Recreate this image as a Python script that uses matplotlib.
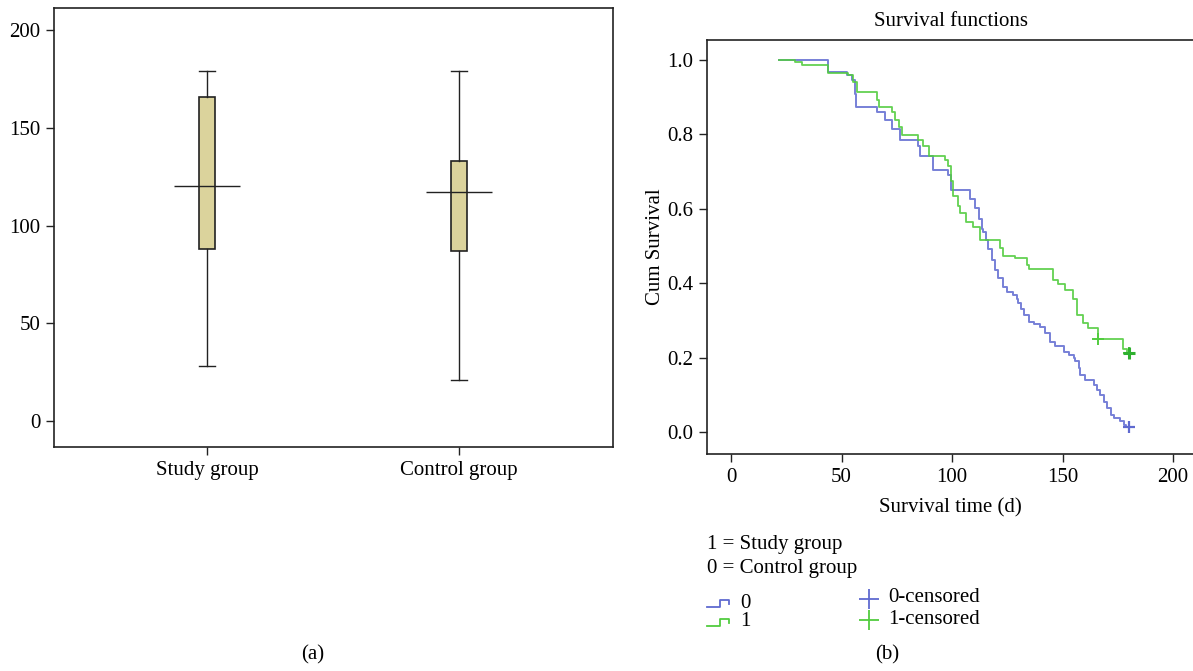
import matplotlib.pyplot as plt
from matplotlib.lines import Line2D

plt.rcParams['font.family'] = ['Liberation Serif', 'DejaVu Serif']
plt.rcParams['font.size'] = 15

# (a) box plot data
groups = ['Study group', 'Control group']
whisker_low = [28, 21]
box_q1 = [88, 87]
box_median = [120, 117]
box_q3 = [166, 133]
whisker_high = [179, 179]
box_color = '#dbd39c'

# (b) Kaplan-Meier step data
study_t = [21.8, 29.0, 32.0, 43.7, 53.0, 55.4, 56.9, 65.9, 67.1, 72.7, 74.2, 76.2, 77.2,
           84.7, 86.9, 89.4, 96.8, 98.3, 99.5, 100.6, 102.8, 103.6, 106.2, 109.7, 112.7,
           121.7, 123.2, 128.5, 133.8, 134.6, 145.9, 147.8, 151.2, 154.9, 156.5, 159.4,
           161.7, 166.2, 177.5, 179.0, 180.0]
study_s = [1.0, 0.996, 0.986, 0.964, 0.960, 0.942, 0.915, 0.893, 0.875, 0.860, 0.839, 0.821, 0.799,
           0.786, 0.768, 0.741, 0.732, 0.714, 0.674, 0.634, 0.607, 0.589, 0.566, 0.550, 0.517,
           0.495, 0.473, 0.468, 0.450, 0.437, 0.410, 0.397, 0.383, 0.357, 0.316, 0.294,
           0.281, 0.249, 0.222, 0.212, 0.212]
study_cens_t = [166.2, 180.0]
study_cens_s = [0.249, 0.212]

ctrl_t = [21.8, 43.7, 52.3, 54.9, 55.9, 56.6, 65.9, 69.7, 72.7, 76.5, 84.7, 85.5, 91.5,
          98.3, 99.5, 108.2, 110.4, 112.0, 113.5, 114.2, 115.4, 116.4, 118.0, 119.5, 121.0,
          123.2, 124.8, 127.8, 129.3, 130.0, 131.2, 132.7, 134.6, 137.0, 139.9, 142.2,
          144.5, 146.7, 150.5, 152.8, 155.0, 155.8, 157.3, 158.1, 160.3, 164.1, 165.6,
          167.1, 168.7, 170.2, 171.7, 173.2, 176.2, 177.7, 178.8, 180.0]
ctrl_s = [1.0, 0.967, 0.960, 0.946, 0.910, 0.875, 0.861, 0.839, 0.814, 0.786, 0.768, 0.741, 0.705,
          0.692, 0.651, 0.627, 0.601, 0.574, 0.547, 0.538, 0.516, 0.493, 0.462, 0.435, 0.413,
          0.391, 0.377, 0.368, 0.359, 0.346, 0.332, 0.314, 0.297, 0.290, 0.283, 0.265,
          0.243, 0.230, 0.216, 0.207, 0.198, 0.190, 0.172, 0.154, 0.141, 0.127, 0.114,
          0.100, 0.082, 0.064, 0.046, 0.038, 0.029, 0.020, 0.013, 0.013]
ctrl_cens_t = [180.0]
ctrl_cens_s = [0.013]

blue = '#5f6ad0'
green = '#52cc3f'

fig = plt.figure(figsize=(11.93, 6.71), dpi=100)

# ---- panel (a)
ax1 = fig.add_axes([0.0453, 0.3338, 0.4686, 0.6543])
stats = []
for i in range(len(groups)):
    stats.append({'whislo': whisker_low[i], 'q1': box_q1[i], 'med': box_median[i],
                  'q3': box_q3[i], 'whishi': whisker_high[i], 'fliers': []})
ax1.bxp(stats, positions=[1, 2], widths=0.063, capwidths=0.063, showfliers=False,
        patch_artist=True,
        boxprops=dict(facecolor=box_color, edgecolor='#222222', linewidth=1.2),
        whiskerprops=dict(color='#222222', linewidth=1.0),
        capprops=dict(color='#222222', linewidth=1.0),
        medianprops=dict(linewidth=0))
ax1.hlines(box_median, [0.87, 1.87], [1.13, 2.13], color='#222222', linewidth=1.0)
ax1.set_xlim(0.393, 2.61)
ax1.set_ylim(-13.3, 211.3)
ax1.set_yticks([0, 50, 100, 150, 200])
ax1.set_xticks([1, 2])
ax1.set_xticklabels(groups)
ax1.tick_params(direction='out', length=6, width=1, color='#222222', pad=4)
for sp in ax1.spines.values():
    sp.set_linewidth(1.2)
    sp.set_color('#222222')

# ---- panel (b)
ax2 = fig.add_axes([0.5929, 0.3234, 0.4080, 0.6170])
ax2.step(ctrl_t, ctrl_s, where='post', color=blue, linewidth=1.4, alpha=0.85)
ax2.step(study_t, study_s, where='post', color=green, linewidth=1.3, alpha=0.9)
ax2.plot(ctrl_cens_t, ctrl_cens_s, '+', color=blue, markersize=9, mew=1.6)
ax2.plot(study_cens_t, study_cens_s, '+', color=green, markersize=8, mew=1.4)
ax2.plot(study_cens_t[-1:], study_cens_s[-1:], '+', color='#2fb02f', markersize=9, mew=2.2)
ax2.set_xlim(-10.7, 209.5)
ax2.set_ylim(-0.059, 1.054)
ax2.set_xticks([0, 50, 100, 150, 200])
ax2.set_yticks([0.0, 0.2, 0.4, 0.6, 0.8, 1.0])
ax2.set_yticklabels(['0.0', '0.2', '0.4', '0.6', '0.8', '1.0'])
ax2.tick_params(direction='out', length=6, width=1, color='#222222', pad=4)
for sp in ax2.spines.values():
    sp.set_linewidth(1.2)
    sp.set_color('#222222')
ax2.set_title('Survival functions', fontsize=15, pad=10)
ax2.set_xlabel('Survival time (d)', labelpad=8)
ax2.set_ylabel('Cum Survival', labelpad=2)

# ---- legend block below panel (b)
fig.text(707 / 1193, 1 - 545 / 671, '1 = Study group', ha='left', va='center')
fig.text(707 / 1193, 1 - 569 / 671, '0 = Control group', ha='left', va='center')


def step_icon(x0, yc, color):
    xs = [x0, x0 + 13, x0 + 13, x0 + 22, x0 + 22]
    ys = [yc + 4, yc + 4, yc - 3, yc - 3, yc + 1]
    fig.add_artist(Line2D([x / 1193 for x in xs], [1 - y / 671 for y in ys],
                          transform=fig.transFigure, color=color, linewidth=1.3))


step_icon(707, 603, blue)
step_icon(707, 622, green)
fig.text(740 / 1193, 1 - 603 / 671, '0', ha='left', va='center')
fig.text(740 / 1193, 1 - 621 / 671, '1', ha='left', va='center')
fig.add_artist(Line2D([869 / 1193], [1 - 599 / 671], transform=fig.transFigure, marker='+',
                      markersize=14, mew=1.3, color=blue, linestyle='none'))
fig.add_artist(Line2D([869 / 1193], [1 - 620 / 671], transform=fig.transFigure, marker='+',
                      markersize=14, mew=1.3, color=green, linestyle='none'))
fig.text(888 / 1193, 1 - 598 / 671, '0-censored', ha='left', va='center')
fig.text(888 / 1193, 1 - 620 / 671, '1-censored', ha='left', va='center')

fig.text(313 / 1193, 1 - 655 / 671, '(a)', ha='center', va='center')
fig.text(887 / 1193, 1 - 655 / 671, '(b)', ha='center', va='center')

plt.savefig('out.png', dpi=100)
